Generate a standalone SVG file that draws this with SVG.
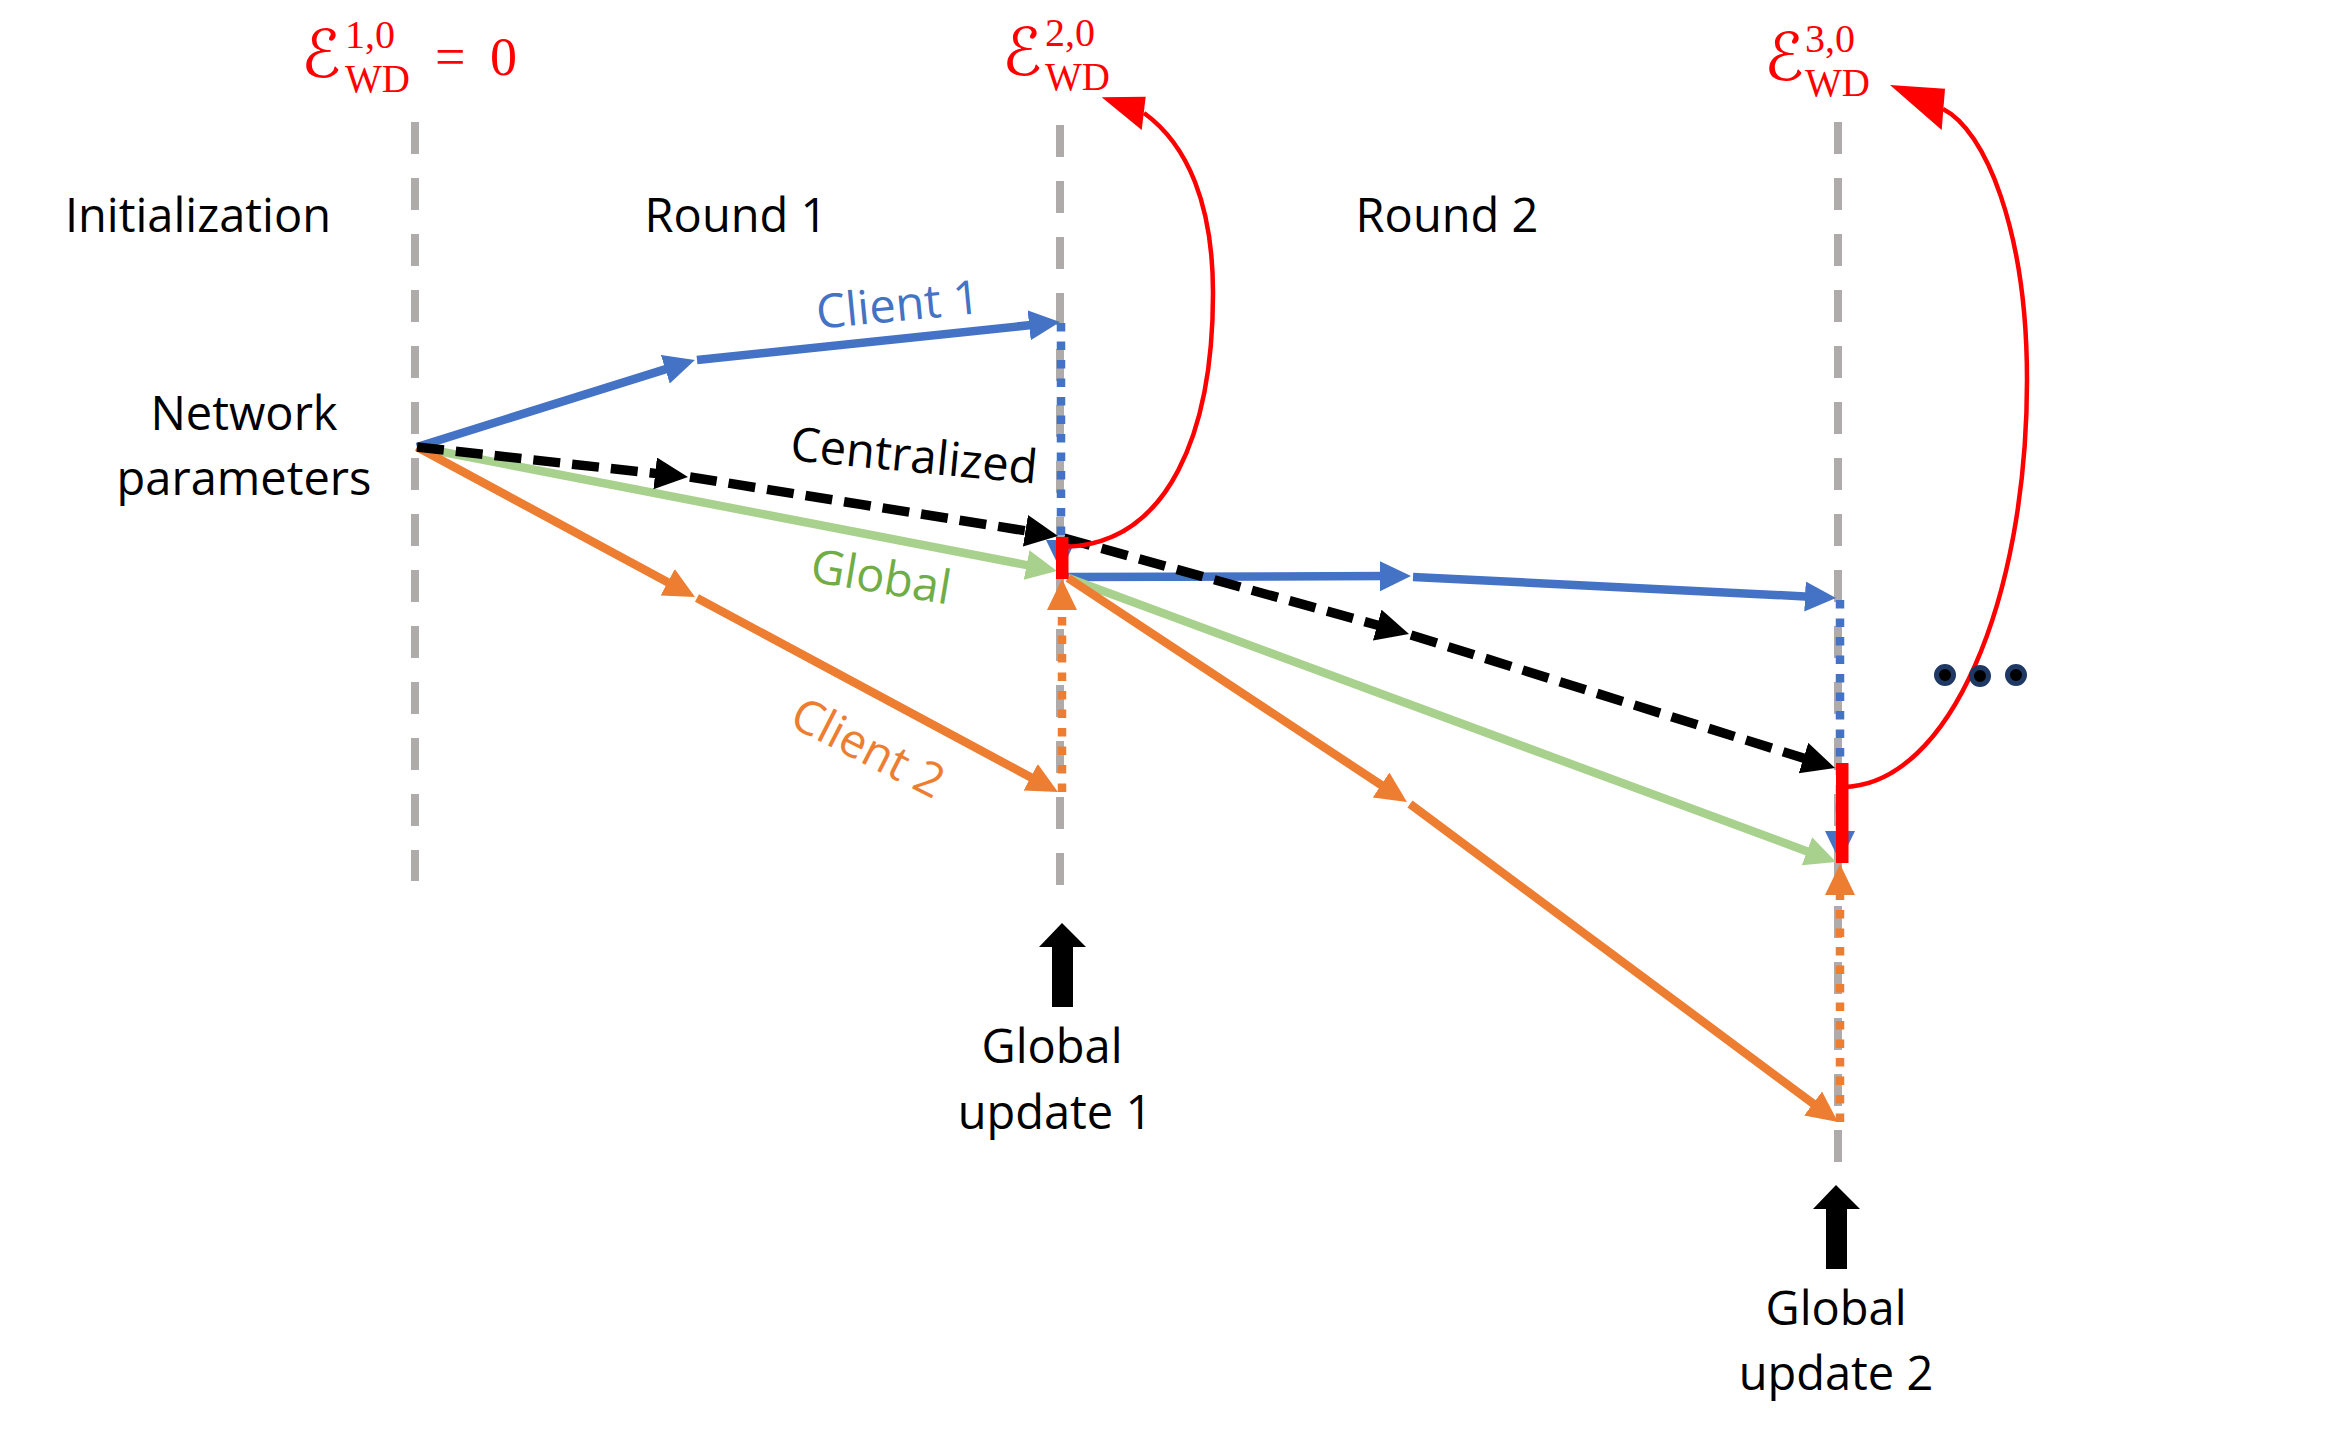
<svg xmlns="http://www.w3.org/2000/svg" width="2342" height="1439" viewBox="0 0 2342 1439">
<style>
.t{font-family:"Open Sans","Liberation Sans",sans-serif;font-size:47px;fill:#000}
.m{font-family:"Liberation Serif","DejaVu Serif",serif;fill:#FF0000}
.sup{font-size:40px}
.sub{font-size:39px}
.cal{font-family:"DejaVu Serif","DejaVu Sans",serif;font-size:66px;fill:#FF0000}
.grid{stroke:#AFABAB;stroke-width:8;stroke-dasharray:32 24;fill:none}
.b{stroke:#4472C4;stroke-width:8.5;fill:none;marker-end:url(#ab)}
.o{stroke:#ED7D31;stroke-width:8.5;fill:none;marker-end:url(#ao)}
.g{stroke:#A9D18E;stroke-width:8.5;fill:none;marker-end:url(#ag)}
.k{stroke:#000;stroke-width:9.5;fill:none;stroke-dasharray:27 12;marker-end:url(#ak)}
.dot{stroke-dasharray:8.5 10;stroke-width:8.5}
.red{stroke:#FF0000;stroke-width:4.5;fill:none}
</style>
<defs>
<marker id="ab" markerUnits="userSpaceOnUse" markerWidth="34" markerHeight="32" refX="9" refY="15" orient="auto"><path d="M0,0 L31,15 L0,30 z" fill="#4472C4"/></marker>
<marker id="ao" markerUnits="userSpaceOnUse" markerWidth="34" markerHeight="32" refX="9" refY="15" orient="auto"><path d="M0,0 L31,15 L0,30 z" fill="#ED7D31"/></marker>
<marker id="ag" markerUnits="userSpaceOnUse" markerWidth="34" markerHeight="32" refX="9" refY="15" orient="auto"><path d="M0,0 L31,15 L0,30 z" fill="#A9D18E"/></marker>
<marker id="ak" markerUnits="userSpaceOnUse" markerWidth="36" markerHeight="34" refX="11" refY="16" orient="auto"><path d="M0,0 L33,16 L0,32 z" fill="#000"/></marker>
</defs>
<rect width="2342" height="1439" fill="#fff"/>

<g id="timelines">
<line class="grid" x1="415" y1="122" x2="415" y2="881"/>
<line class="grid" x1="1060" y1="125" x2="1060" y2="896"/>
<line class="grid" x1="1838" y1="122" x2="1838" y2="1165"/>
</g>

<g id="connectors">
<line class="b" x1="417" y1="447" x2="673.9" y2="366.6"/>
<line class="b" x1="697" y1="360" x2="1038.1" y2="324.3"/>
<line class="g" x1="417" y1="447" x2="1035.4" y2="566.8"/>
<line class="o" x1="417" y1="447" x2="675.6" y2="586.5"/>
<line class="o" x1="697" y1="598" x2="1038.6" y2="781.5"/>
<line class="k" x1="417" y1="447" x2="666.1" y2="474.6"/>
<line class="k" x1="690" y1="477" x2="1036.3" y2="532.5"/>
<line class="b dot" x1="1061" y1="323" x2="1061" y2="549"/>
<line class="o dot" x1="1062" y1="792" x2="1062" y2="601"/>
<line class="b" x1="1068" y1="577" x2="1389" y2="576.1"/>
<line class="b" x1="1413" y1="577" x2="1814" y2="596.9"/>
<line class="g" x1="1068" y1="578" x2="1815.4" y2="854.4"/>
<line class="o" x1="1068" y1="578" x2="1388.6" y2="789.9"/>
<line class="o" x1="1410" y1="804" x2="1820.3" y2="1108.9"/>
<line class="k" x1="1064" y1="538" x2="1387.8" y2="628"/>
<line class="k" x1="1411" y1="635" x2="1814" y2="761.4"/>
<line class="b dot" x1="1840" y1="600" x2="1840" y2="840"/>
<line class="o dot" x1="1840" y1="1122" x2="1840" y2="886"/>
</g>

<g id="wd-1">
<rect x="1056" y="537" width="12.5" height="42" fill="#FF0000"/>
<path class="red" d="M1063,547 C1170,545 1213,430 1213,293 C1213,205 1188,145 1144,113"/>
<polygon points="1101.7,97.3 1145.7,96.7 1141.7,130" fill="#FF0000"/>
</g>
<g id="wd-2">
<rect x="1836" y="763" width="12.5" height="100" fill="#FF0000"/>
<path class="red" d="M1843,787 C1950,785 2027,600 2027,380 C2027,230 1985,130 1943,109"/>
<polygon points="1890,85 1945,88.8 1941.7,130" fill="#FF0000"/>
</g>

<g id="ellipsis">
<circle cx="1945" cy="675" r="8.5" fill="#000" stroke="#1F3864" stroke-width="5"/>
<circle cx="1980" cy="676" r="8.5" fill="#000" stroke="#1F3864" stroke-width="5"/>
<circle cx="2016" cy="675" r="8.5" fill="#000" stroke="#1F3864" stroke-width="5"/>
</g>

<g id="label-e1">
<text class="cal" x="301" y="77">ℰ</text>
<text class="m sup" x="345" y="48">1,0</text>
<text class="m sub" x="345" y="92">WD</text>
<text class="m" x="435" y="75" font-size="54">=</text>
<text class="m" x="490" y="75" font-size="54">0</text>
</g>
<g id="label-e2">
<text class="cal" x="1002" y="75">ℰ</text>
<text class="m sup" x="1045" y="46">2,0</text>
<text class="m sub" x="1045" y="90">WD</text>
</g>
<g id="label-e3">
<text class="cal" x="1764" y="80">ℰ</text>
<text class="m sup" x="1805" y="52">3,0</text>
<text class="m sub" x="1805" y="96">WD</text>
</g>

<g id="phase-labels">
<text class="t" x="198" y="232" text-anchor="middle">Initialization</text>
<text class="t" x="736" y="232" text-anchor="middle">Round 1</text>
<text class="t" x="1447" y="232" text-anchor="middle">Round 2</text>
</g>
<g id="network-parameters">
<text class="t" x="244" y="430" text-anchor="middle">Network</text>
<text class="t" x="244" y="495" text-anchor="middle">parameters</text>
</g>

<g id="line-labels">
<text class="t" transform="translate(898,305) rotate(-5.5)" x="0" y="16" text-anchor="middle" style="fill:#4472C4">Client 1</text>
<text class="t" transform="translate(914,456) rotate(5.5)" x="0" y="16" text-anchor="middle">Centralized</text>
<text class="t" transform="translate(881,577) rotate(9.5)" x="0" y="16" text-anchor="middle" style="fill:#70AD47">Global</text>
<text class="t" transform="translate(868,748) rotate(27)" x="0" y="16" text-anchor="middle" style="fill:#ED7D31">Client 2</text>
</g>

<g id="global-update-1">
<polygon points="1062,923 1086,947 1073,947 1073,1007 1052,1007 1052,947 1039,947" fill="#000"/>
<text class="t" x="1052" y="1063" text-anchor="middle">Global</text>
<text class="t" x="1055" y="1129" text-anchor="middle">update 1</text>
</g>
<g id="global-update-2">
<polygon points="1836,1185 1860,1209 1847,1209 1847,1269 1826,1269 1826,1209 1813,1209" fill="#000"/>
<text class="t" x="1836" y="1325" text-anchor="middle">Global</text>
<text class="t" x="1836" y="1390" text-anchor="middle">update 2</text>
</g>
</svg>
